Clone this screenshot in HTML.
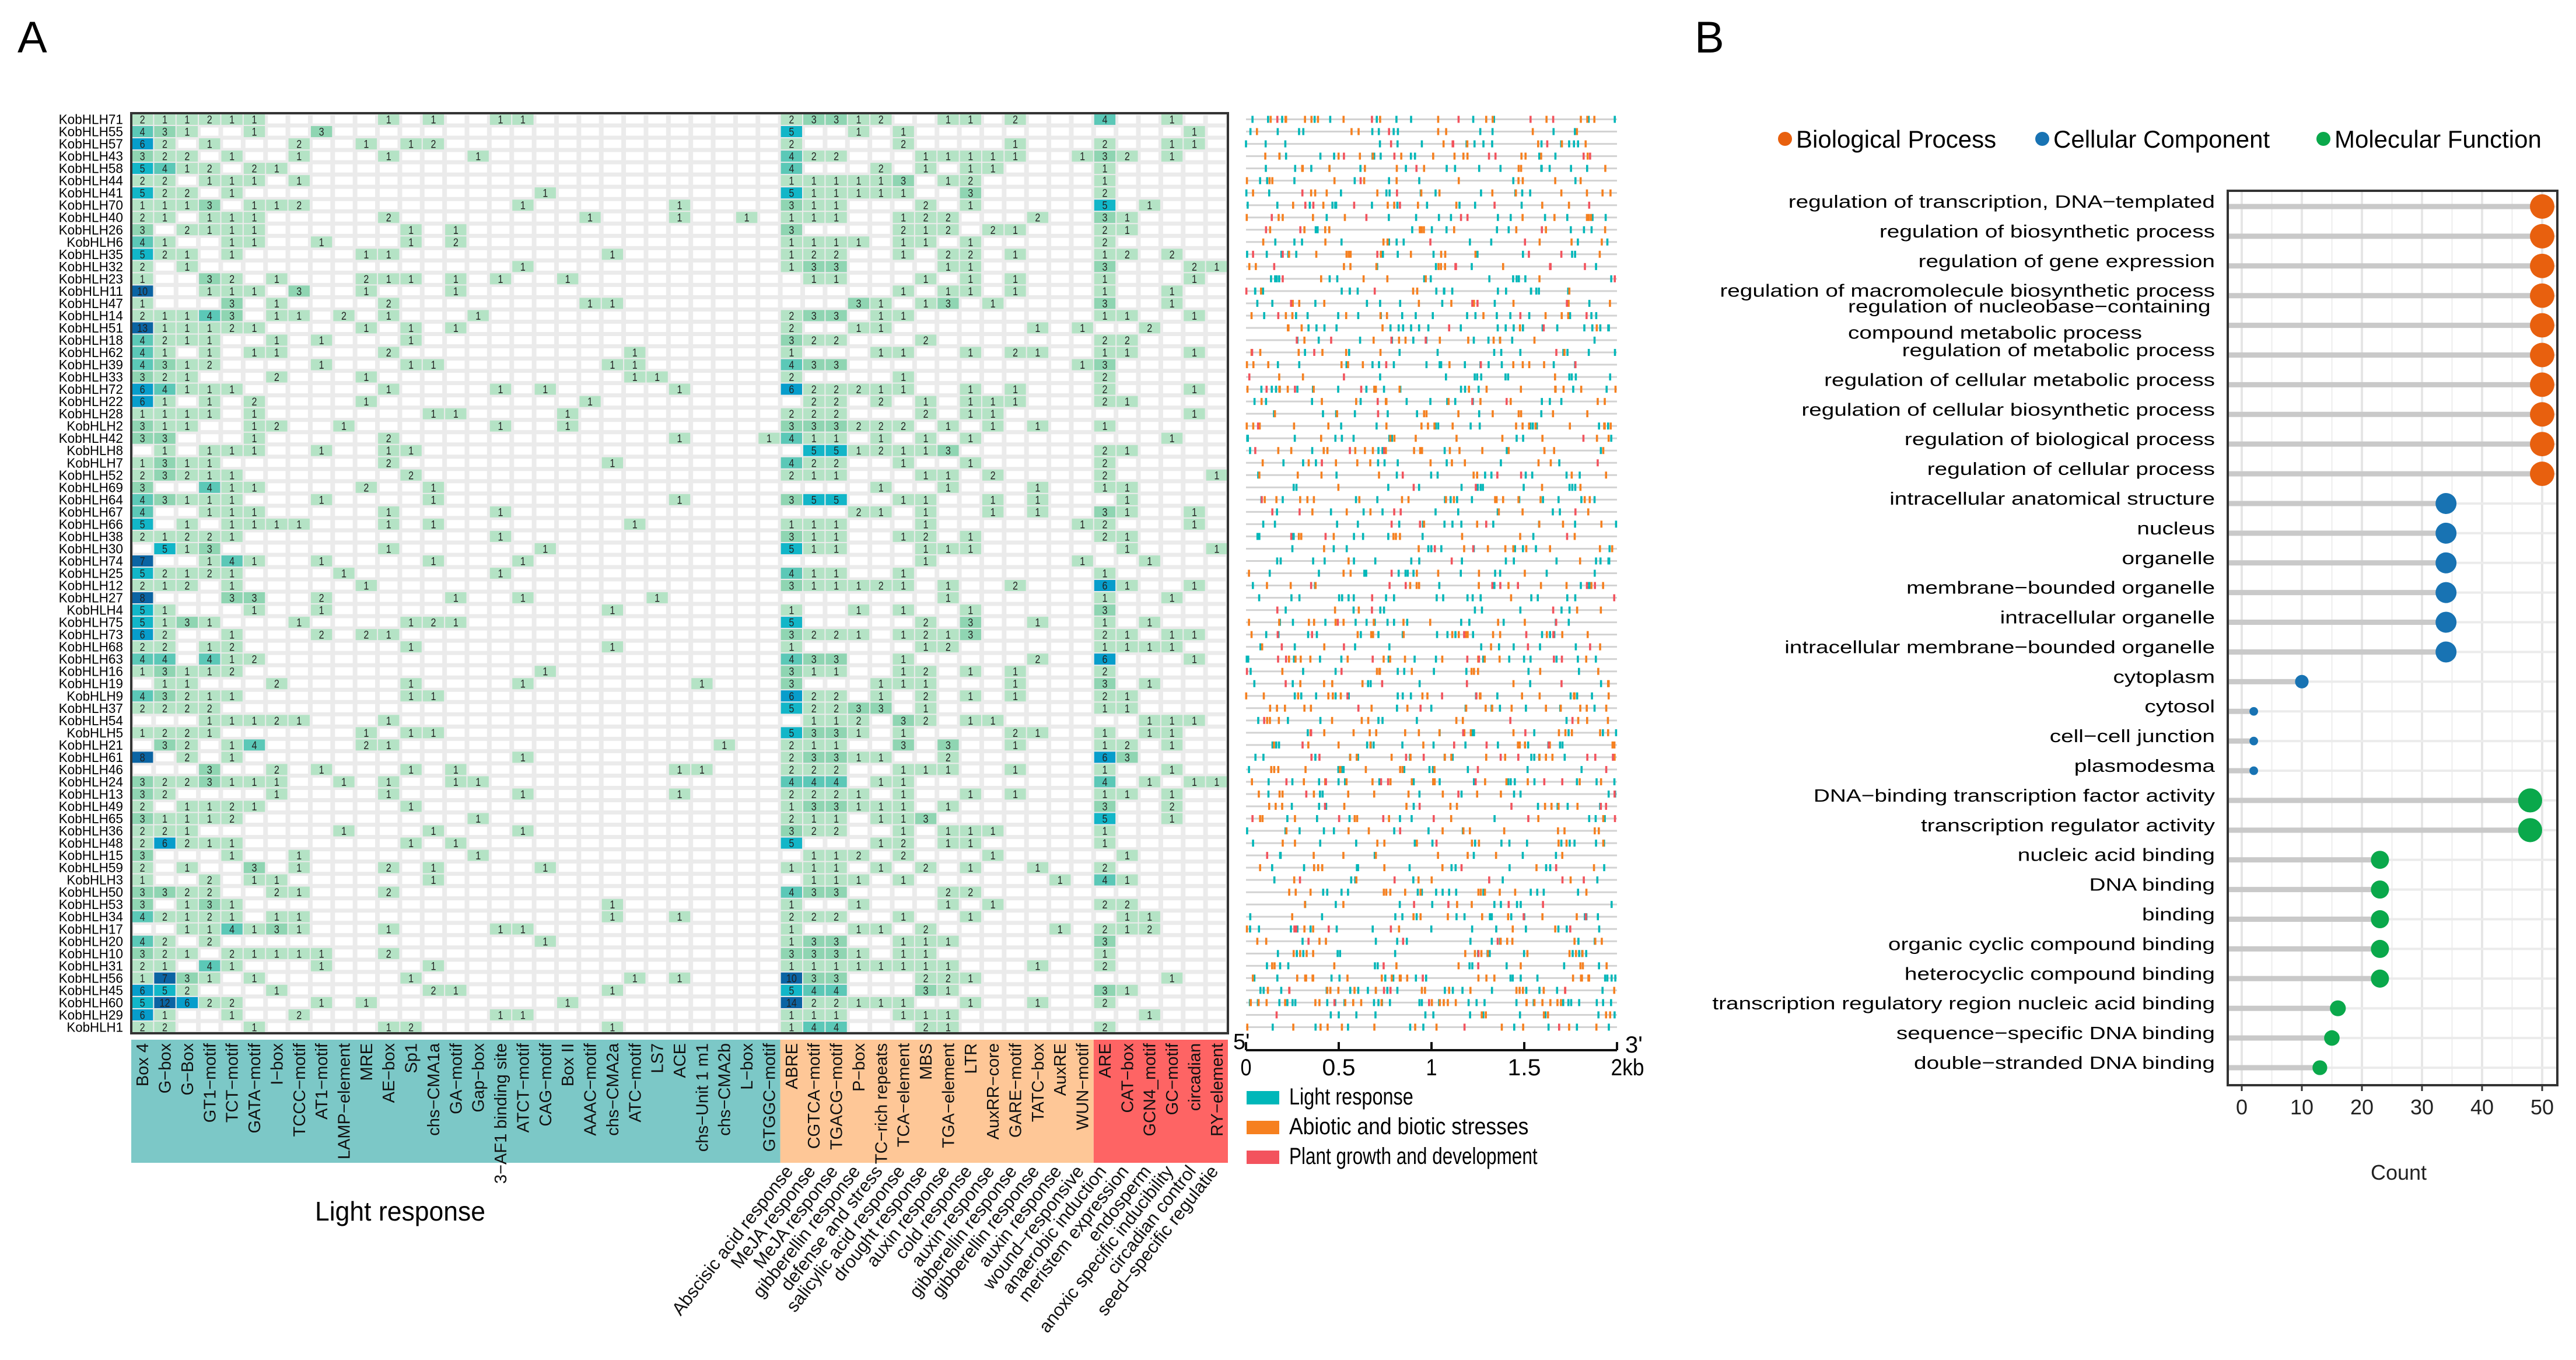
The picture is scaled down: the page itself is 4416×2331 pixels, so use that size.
<!DOCTYPE html>
<html><head><meta charset="utf-8">
<style>
html,body{margin:0;padding:0;background:#fff;}
svg{display:block;font-family:"Liberation Sans",Arial,sans-serif;}
</style></head>
<body>
<svg id="fig" width="4416" height="2331" viewBox="0 0 4416 2331" xmlns="http://www.w3.org/2000/svg">
<rect width="4416" height="2331" fill="#fff"/>
<text x="30" y="90" font-size="76">A</text>
<text x="2905" y="90" font-size="76">B</text>
<g id="heat"></g>
<g id="track"></g>
<g id="go"></g>
</svg>
<script>
const rowNames=["KobHLH71","KobHLH55","KobHLH57","KobHLH43","KobHLH58","KobHLH44","KobHLH41","KobHLH70","KobHLH40","KobHLH26","KobHLH6","KobHLH35","KobHLH32","KobHLH23","KobHLH11","KobHLH47","KobHLH14","KobHLH51","KobHLH18","KobHLH62","KobHLH39","KobHLH33","KobHLH72","KobHLH22","KobHLH28","KobHLH2","KobHLH42","KobHLH8","KobHLH7","KobHLH52","KobHLH69","KobHLH64","KobHLH67","KobHLH66","KobHLH38","KobHLH30","KobHLH74","KobHLH25","KobHLH12","KobHLH27","KobHLH4","KobHLH75","KobHLH73","KobHLH68","KobHLH63","KobHLH16","KobHLH19","KobHLH9","KobHLH37","KobHLH54","KobHLH5","KobHLH21","KobHLH61","KobHLH46","KobHLH24","KobHLH13","KobHLH49","KobHLH65","KobHLH36","KobHLH48","KobHLH15","KobHLH59","KobHLH3","KobHLH50","KobHLH53","KobHLH34","KobHLH17","KobHLH20","KobHLH10","KobHLH31","KobHLH56","KobHLH45","KobHLH60","KobHLH29","KobHLH1"];
const colNames=["Box 4","G\u2212box","G\u2212Box","GT1\u2212motif","TCT\u2212motif","GATA\u2212motif","I\u2212box","TCCC\u2212motif","AT1\u2212motif","LAMP\u2212element","MRE","AE\u2212box","Sp1","chs\u2212CMA1a","GA\u2212motif","Gap\u2212box","3\u2212AF1 binding site","ATCT\u2212motif","CAG\u2212motif","Box II","AAAC\u2212motif","chs\u2212CMA2a","ATC\u2212motif","LS7","ACE","chs\u2212Unit 1 m1","chs\u2212CMA2b","L\u2212box","GTGGC\u2212motif","ABRE","CGTCA\u2212motif","TGACG\u2212motif","P\u2212box","TC\u2212rich repeats","TCA\u2212element","MBS","TGA\u2212element","LTR","AuxRR\u2212core","GARE\u2212motif","TATC\u2212box","AuxRE","WUN\u2212motif","ARE","CAT\u2212box","GCN4_motif","GC\u2212motif","circadian","RY\u2212element"];
const colGroups=[0,0,0,0,0,0,0,0,0,0,0,0,0,0,0,0,0,0,0,0,0,0,0,0,0,0,0,0,0,1,1,1,1,1,1,1,1,1,1,1,1,1,1,2,2,2,2,2,2];
const functionLabels=["Abscisic acid response","MeJA response","MeJA response","gibberellin response","defense and stress","salicylic acid response","drought response","auxin response","cold response","auxin response","gibberellin response","gibberellin response","auxin response","wound\u2212responsive","anaerobic induction","meristem expression","endosperm","anoxic specific inducibility","circadian control","seed\u2212specific regulatie"];
// counts per row in groups of 10,10,10,10,9 columns: '.'=0, digits, a=10 b=11 c=12 d=13 e=14
const heatRows=[
["211211....",".1.1..11..",".........2","3312..11.2","...4..1.."],
["431..1..3.","..........",".........5","..1.1.....",".......1."],
["62.1...2..","1.12......",".........2","....2....1","...2..11."],
["322.1..1..",".1...1....",".........4","22...11111","..132.1.."],
["5412.21...","..........",".........4","...2.1.11.","...1....."],
["22.111.1..","..........",".........1","11113.12..","...1....."],
["522.1.....","........1.",".........5","11111..3..","...2....."],
["1113.112..",".......1..","....1....3","11...2.1..","...5.1..."],
["21.111....",".2........","1...1..1.1","11..122...","2..31...."],
["3.2111....","..1.1.....",".........3","....212.21","...21...."],
["41..11..1.","..1.2.....",".........1","111.11.1..","...2....."],
["521.1.....","11........",".1.......1","22..1.22.1","...12.2.."],
["2.1.......",".......1..",".........1","33....11..","...3...21"],
["1..32.1...","211.1.1..1","..........","11...1.1.1","...1...1."],
["a..111.3..","1...1.....","..........","....1.11.1","...1..1.."],
["1...3.1...",".2........","11........","..31.13.1.","...3..1.."],
["21143.11.2",".1...1....",".........2","33.11.....","...11..1."],
["d11121....","1.1.1.....",".........2","..11......","1.1..2..."],
["4211..1.1.","..1.......",".........3","22...2....","...22...."],
["41.1.11...",".2........","..1......1","...11..1.2","1..11..1."],
["4312....1.","..11......",".11......4","33........","..13....."],
["321...2...","1.........","..11.....2","....1.....","...2....."],
["64111.....",".1....1.1.","....1....6","22211..1.1","...2...1."],
["61.1.2....","1.........","1.........","22.2.1.111","...21...."],
["1111.1....","...11....1",".........2","22...2.11.",".......1."],
["311..12..1","......1..1",".........3","33222.1.1.","1..1....."],
["33...1....",".2........","....1...14","11.1.1.1..","......1.."],
[".1.111..1.",".11.......","..........","5512113...","...21...."],
["1311......",".2........",".1.......4","22..1..1..","...2....."],
["23211.....","..2.......",".........2","11...11.2.","...2....1"],
["3..411....","2..1......","..........","...1..1...","1..11...."],
["43111...1.","...1......","....1....3","55..11..1.","1...1...."],
["4..111....",".1....1...","..........","..21.1..1.","1..31..1."],
["5.1.1111..",".1.1......","..1......1","11...1....","..12...1."],
["21221.....","......1...",".........3","11..12.1..","...21...."],
[".513......",".1......1.",".........5","11...111..","....1...1"],
["7..141..1.","...1...1..","..........",".....1....","..1..1..."],
["52121....1","......1...",".........4","11..1.....","...1....."],
["212.1.....","1.........",".........3","11121.1..2","...61..1."],
["8...33..2.","....1..1..","...1......","......1...","...1..1.."],
["51...1..1.","..........",".1.......1","..1.1..1..","...3....."],
["5131...1..","..121.....",".........5",".....2.3..","1..1.1..."],
["62..1...2.","21........",".........3","221.1213..","...21.11."],
["22.12.....","..1.......",".1.......1",".....12...","...1111.."],
["44.412....","..........",".........4","33..1.....","2..6...1."],
["13112.....","........1.",".........3","11..12.1.1","...2....."],
[".11...2...","..1....1..",".....1...3","...111...1","...3.1..."],
["43211.....","..11......",".........6","22.1.2.1.1","...21...."],
["2222......","..........",".........5","2233.1....","...11...."],
["...11121..",".1........","..........","112.32.11.",".....111."],
["1221......","1.11......",".........5","331.1....2","1..1.11.."],
[".32.14....","21........","......1..2","11..3.3..1","...12.1.."],
["8.2.1.....",".......1..",".........2","3311..2...","...63...."],
["...3..2.1.","..1.1.....","....11...2","22..111..1","...1..1.."],
["3223111..1",".1..11....",".........4","44.11.....","...4.1.11"],
["32....1...",".1.....1..","....1....2","221.1..1.1","...11.1.."],
["2.1121....","..1.......",".........1","33111.1...","...3..2.."],
["31112.....",".....1....",".........2","11.113....","...5..1.."],
["221......1","...1...1..",".........3","22..1.111.","...1....."],
["26211.....","..1.1.....",".........5","...12.11..","...1....."],
["3...1..1..",".....1....","..........","112.2...1.","....1...."],
["2.1..3.1..",".2.1....1.",".........1","11.1.2.1..","1..2....."],
["1..2.11...","...1......","..........","111.1.....",".1.41...."],
["3322..21..",".2........",".........4","33....22..","........."],
["3.131.....","..........",".1.......1","..1...1.1.","...22...."],
["42121.11..","..........",".1..1....2","22..1..1..","....11..."],
["..114131..",".1....11..",".........1","..11.2....",".1.212..."],
["42.2......","........1.",".........1","33..111...","...3....."],
["321.21111.",".2........",".........3","331.11....","...1....."],
["21.41...1.","...1......",".........1","1111111...","1..2....."],
["1731.1....","..1.......","..1.1....a","33...221..","......1.."],
["652...1...","...21.....",".1.......5","44...31...","...31...."],
["5c622...1.","1........1",".........e","22111..1..","1..2....."],
["61..1..2..","......11..",".........1","11..111...",".....1..."],
["22...1....",".12.......",".1.......1","44...21...","...2....."]
];
</script>
<script>
const NS="http://www.w3.org/2000/svg";
function mk(tag,attrs,parent){const e=document.createElementNS(NS,tag);for(const k in attrs)e.setAttribute(k,attrs[k]);if(parent)parent.appendChild(e);return e;}
function decode(g){const s=g.join('');const out=[];for(const ch of s){if(ch==='.')out.push(0);else if(ch>='0'&&ch<='9')out.push(+ch);else out.push(ch.charCodeAt(0)-87);}while(out.length<49)out.push(0);return out.slice(0,49);}
const heat=heatRows.map(decode);
const HX0=225,HY0=194,HX1=2105,HY1=1771;
const nR=rowNames.length,nC=colNames.length;
const cw=(HX1-HX0)/nC,rh=(HY1-HY0)/nR;
function xCol(j){return HX0+j*cw;}
function yRow(i){return HY0+i*rh;}
function fillFor(v){
  if(v<=2)return "#b4e3c5";
  if(v===3)return "#8fd5b2";
  if(v===4)return "#5bc8b7";
  if(v===5)return "#12b6c8";
  if(v===6)return "#079dcb";
  return "#0b64a3";
}
const H=document.getElementById('heat');
mk('rect',{x:HX0,y:HY0,width:HX1-HX0,height:HY1-HY0,fill:"#ebebeb"},H);
for(let i=0;i<nR;i++){for(let j=0;j<nC;j++){
  mk('rect',{x:xCol(j)+4,y:yRow(i)+3.5,width:cw-8,height:rh-7,fill:"#fff"},H);
}}
for(let i=0;i<nR;i++){
  const lab=mk('text',{x:HX0-14,y:yRow(i)+rh/2+8,"font-size":23,"text-anchor":"end",textLength:rowNames[i].length*13.8,lengthAdjust:"spacingAndGlyphs"},H);
  lab.textContent=rowNames[i];
  
  
  for(let j=0;j<nC;j++){const v=heat[i][j];if(!v)continue;
    const c=mk('rect',{x:xCol(j)+1,y:yRow(i)+1,width:cw-2,height:rh-2,fill:fillFor(v)},H);
    
    
    const t=mk('text',{x:xCol(j)+cw/2,y:yRow(i)+rh/2+7,"font-size":19,"text-anchor":"middle",fill:"#222",textLength:String(v).length*9,lengthAdjust:"spacingAndGlyphs"},H);
    t.textContent=v;
  }
}
mk('rect',{x:HX0,y:HY0,width:HX1-HX0,height:HY1-HY0,fill:"none",stroke:"#333",'stroke-width':4},H);
const bandColors=["#7cc8c7","#fec797","#fe6464"];
const BY0=1782,BY1=1993;
[[0,29],[29,43],[43,49]].forEach((g,k)=>{
  const b=mk('rect',{x:xCol(g[0]),y:BY0,width:xCol(g[1])-xCol(g[0]),height:BY1-BY0,fill:bandColors[k]},H);
  
  
});
for(let j=0;j<nC;j++){
  const cx=xCol(j)+cw/2+10;
  const t=mk('text',{x:cx,y:1788,"font-size":29,"text-anchor":"end",transform:`rotate(-90 ${cx} 1788)`,fill:"#111"},H);
  t.textContent=colNames[j];
  
  
}
for(let k=0;k<functionLabels.length;k++){
  const j=29+k;const cx=xCol(j)+cw/2+4,cy=2008;
  const t=mk('text',{x:cx,y:cy,"font-size":31,"text-anchor":"end",transform:`rotate(-52 ${cx} ${cy})`,fill:"#111"},H);
  t.textContent=functionLabels[k];
  
  
}
const lr=mk('text',{x:686,y:2092,"font-size":46,"text-anchor":"middle",textLength:292,lengthAdjust:"spacingAndGlyphs"},H);
lr.textContent="Light response";



// ---- motif position track ----
const T=document.getElementById('track');
const TX0=2136,TX1=2772,TL=2000;
function xbp(bp){return TX0+bp/TL*(TX1-TX0);}
const trackColors=["#00b7b9","#f6801f","#f3535d"];
for(let i=0;i<nR;i++){
  const y=yRow(i)+rh/2;
  mk('line',{x1:TX0,x2:TX1,y1:y,y2:y,stroke:"#d2d2d2","stroke-width":3},T);
  let n=0;
  for(let j=0;j<nC;j++){for(let k=0;k<heat[i][j];k++){n++;
    const bp=((i*131+j*977+k*613+n*89)*7919)%1997;
    const m=mk('rect',{x:xbp(bp)-1.8,y:y-6,width:3.6,height:12,fill:trackColors[colGroups[j]]},T);
    
    
  }}
}
mk('line',{x1:xbp(0),x2:xbp(2000),y1:1800,y2:1800,stroke:"#111","stroke-width":4},T);
const kbTicks=[0,0.5,1,1.5,2];
const kbLabels=["0","0.5","1","1.5","2kb"];
kbTicks.forEach((v,k)=>{const x=xbp(v*1000);
  mk('line',{x1:x,x2:x,y1:1800,y2:1786,stroke:"#111","stroke-width":4},T);
  const t=mk('text',{x:x+(k===4?18:0),y:1843,"font-size":40,"text-anchor":"middle",textLength:kbLabels[k].length*19,lengthAdjust:"spacingAndGlyphs"},T);
  t.textContent=kbLabels[k];
  
  
});
const f5=mk('text',{x:2114,y:1798,"font-size":38},T);f5.textContent="5'";
const f3=mk('text',{x:2786,y:1804,"font-size":40},T);f3.textContent="3'";
const legendItems=["Light response","Abiotic and biotic stresses","Plant growth and development"];
legendItems.forEach((s,k)=>{const y=1870+k*51;
  const sw=mk('rect',{x:2137,y:y,width:56,height:23,fill:trackColors[k]},T);
  
  
  const t=mk('text',{x:2210,y:y+23,"font-size":40,textLength:s.length*15.2,lengthAdjust:"spacingAndGlyphs"},T);
  t.textContent=s;
  
  
});
</script>
<script>
const goTerms=["regulation of transcription, DNA\u2212templated","regulation of biosynthetic process","regulation of gene expression","regulation of macromolecule biosynthetic process","regulation of nucleobase\u2212containing compound metabolic process","regulation of metabolic process","regulation of cellular metabolic process","regulation of cellular biosynthetic process","regulation of biological process","regulation of cellular process","intracellular anatomical structure","nucleus","organelle","membrane\u2212bounded organelle","intracellular organelle","intracellular membrane\u2212bounded organelle","cytoplasm","cytosol","cell\u2212cell junction","plasmodesma","DNA\u2212binding transcription factor activity","transcription regulator activity","nucleic acid binding","DNA binding","binding","organic cyclic compound binding","heterocyclic compound binding","transcription regulatory region nucleic acid binding","sequence\u2212specific DNA binding","double\u2212stranded DNA binding"];
const goCounts=[50,50,50,50,50,50,50,50,50,50,34,34,34,34,34,34,10,2,2,2,48,48,23,23,23,23,23,16,15,13];
const goCategory=["BP","BP","BP","BP","BP","BP","BP","BP","BP","BP","CC","CC","CC","CC","CC","CC","CC","CC","CC","CC","MF","MF","MF","MF","MF","MF","MF","MF","MF","MF"];
const xTicks=[0,10,20,30,40,50];
const catNames=["Biological Process","Cellular Component","Molecular Function"];
const catColors={BP:"#e8600e",CC:"#1873b3",MF:"#0aa84b"};
const G=document.getElementById('go');
const PX0=3819,PX1=4384,PY0=327,PY1=1860;
function gx(v){return 3843+v*(4358-3843)/50;}
const nG=goTerms.length;
function gy(i){return 354+i*(1830-354)/(nG-1);}
function stretch(t){const w=t.getComputedTextLength();if(w>0){t.setAttribute('textLength',w*1.25);t.setAttribute('lengthAdjust','spacingAndGlyphs');}}
mk('rect',{x:PX0,y:PY0,width:PX1-PX0,height:PY1-PY0,fill:"#fff"},G);
for(let v=0;v<=55;v+=5){const x=gx(v);if(x>PX1)break;
  mk('line',{x1:x,x2:x,y1:PY0,y2:PY1,stroke:v%10===0?"#e6e6e6":"#f0f0f0","stroke-width":v%10===0?4:2.5},G);}
for(let i=0;i<nG;i++){mk('line',{x1:PX0,x2:PX1,y1:gy(i),y2:gy(i),stroke:"#ebebeb","stroke-width":4},G);}
for(let i=0;i<nG;i++){
  const y=gy(i),c=goCounts[i];
  const st=mk('line',{x1:PX0,x2:gx(c),y1:y,y2:y,stroke:"#c9c9c9","stroke-width":9},G);
  
  
  const d=mk('circle',{cx:gx(c),cy:y,r:4+2.4*Math.sqrt(c),fill:catColors[goCategory[i]]},G);
  
  
  const term=goTerms[i];
  if(term.indexOf("nucleobase")>=0){
    const a=mk('text',{x:3168,y:y-22,"font-size":31},G);a.textContent="regulation of nucleobase\u2212containing";
    const b=mk('text',{x:3168,y:y+23,"font-size":31},G);b.textContent="compound metabolic process";
    stretch(a);stretch(b);
    
    
  } else {
    const t=mk('text',{x:3797,y:y+2,"font-size":31,"text-anchor":"end"},G);
    t.textContent=term;
    stretch(t);
    
    
  }
}
mk('rect',{x:PX0,y:PY0,width:PX1-PX0,height:PY1-PY0,fill:"none",stroke:"#333","stroke-width":4},G);
xTicks.forEach(v=>{const x=gx(v);
  mk('line',{x1:x,x2:x,y1:PY1,y2:PY1+10,stroke:"#333","stroke-width":3},G);
  const t=mk('text',{x:x,y:1910,"font-size":36,"text-anchor":"middle",fill:"#222"},G);
  t.textContent=v;
  
  
});
const xt=mk('text',{x:4112,y:2022,"font-size":36,"text-anchor":"middle",fill:"#222"},G);
xt.textContent="Count";


const legX=[3060,3501,3983];
["BP","CC","MF"].forEach((k,n)=>{
  const c=mk('circle',{cx:legX[n],cy:238,r:12,fill:catColors[k]},G);
  
  
  const t=mk('text',{x:legX[n]+19,y:253,"font-size":42},G);
  t.textContent=catNames[n];
  
  
});
</script>
</body></html>
